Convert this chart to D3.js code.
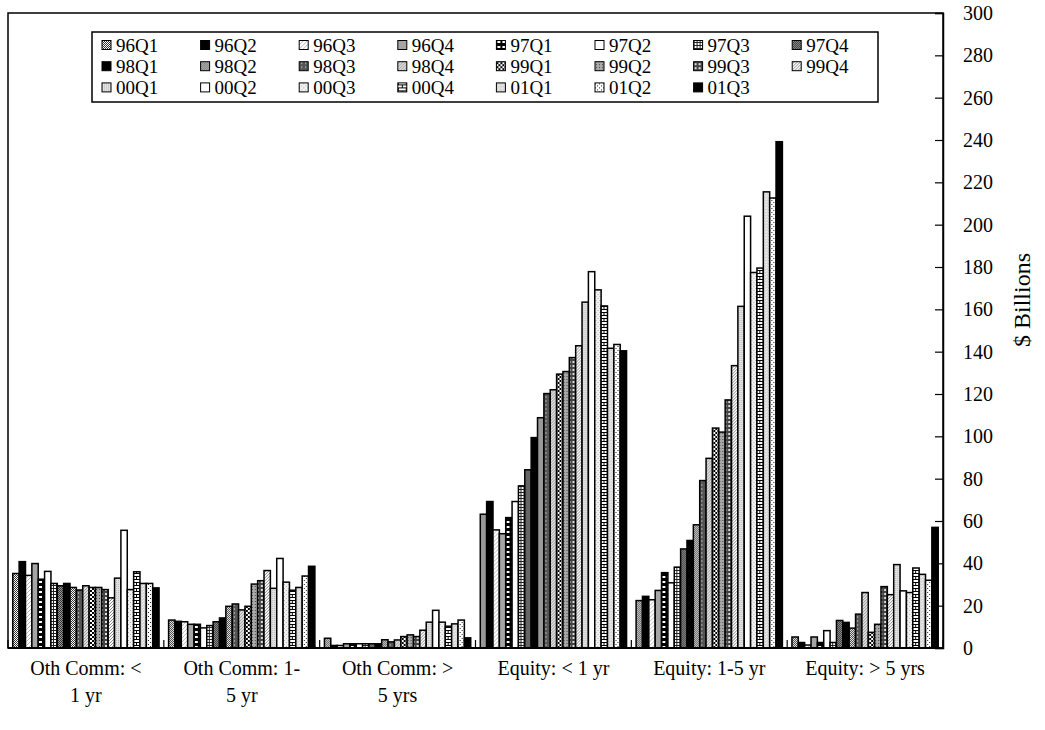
<!DOCTYPE html>
<html><head><meta charset="utf-8">
<script src="https://cdn.jsdelivr.net/npm/d3@7"></script>
<style>
html,body{margin:0;padding:0;background:#fff;}
svg{display:block;}
text{font-family:"Liberation Serif","Times New Roman",serif;fill:#000;}
</style></head>
<body>
<svg id="chart" width="1045" height="730"></svg>
<script>
// ---- data ----
const categories = [
  ["Oth Comm: <", "1 yr"],
  ["Oth Comm: 1-", "5 yr"],
  ["Oth Comm: >", "5 yrs"],
  ["Equity: < 1 yr"],
  ["Equity: 1-5 yr"],
  ["Equity: > 5 yrs"]
];
const series = ["96Q1","96Q2","96Q3","96Q4","97Q1","97Q2","97Q3","97Q4",
                "98Q1","98Q2","98Q3","98Q4","99Q1","99Q2","99Q3","99Q4",
                "00Q1","00Q2","00Q3","00Q4","01Q1","01Q2","01Q3"];
const othCommLt1 = [35.2,40.8,34.3,39.9,32.5,36.2,30.5,29.4,30.5,28.6,27.4,29.4,28.6,28.6,27.6,23.7,33,55.6,27.6,36,30.5,30.5,28.4];
const othComm1to5 = [13.2,12.6,12.4,11.2,11.2,9.5,10.6,12.4,14.2,19.7,20.8,18,19.7,30.2,31.8,36.6,28.2,42.3,31.1,27.3,28.6,34,38.6];
const othCommGt5 = [4.6,1.2,1.2,2,2,2,2,2,2,3.9,2.9,3.8,5.4,6.2,5.4,8.4,12.2,17.8,12.2,10.3,11.4,13.2,4.8];
const equityLt1 = [63.2,69.2,55.8,54,61.6,69.2,76.6,84.2,99.4,108.8,120.2,122,129.4,130.6,137.2,142.8,163.4,177.8,169.2,161.6,141.6,143.4,140.4];
const equity1to5 = [22.4,24.4,22.8,27.2,35.6,30.8,38.2,46.8,50.8,58.2,79.1,89.6,103.9,102,117.2,133.4,161.4,204,177.4,179.5,215.5,212.6,239.2];
const equityGt5 = [5.2,2.6,1.4,5.2,2.6,8.2,2.6,13,12.1,9.4,16,26.2,7.4,11.2,29,25.2,39.4,27,26.2,37.8,34.8,32,57];
const groupValues = [othCommLt1, othComm1to5, othCommGt5, equityLt1, equity1to5, equityGt5];
const yTicks = [0,20,40,60,80,100,120,140,160,180,200,220,240,260,280,300];
const yLabel = "$ Billions";

// ---- fill styles (per series) ----
const fills = ["dots50","black","diag","gray","plaid","white","grid","dark","black","dots50","vert",
               "ltdots","checker","graydots","darkwhite","sparse","ltgray","white","vltgray","brick","ltgray2","whitedots","black"];

const svg = d3.select("#chart");
const defs = svg.append("defs");
function pat(id, w, h, build){
  const p = defs.append("pattern").attr("id", id).attr("patternUnits","userSpaceOnUse")
    .attr("width", w).attr("height", h);
  build(p);
}
const px = (p, pts, c) => pts.forEach(([x,y]) => p.append("rect").attr("x",x).attr("y",y).attr("width",1).attr("height",1).attr("fill",c));
const bg = (p, w, h, c) => p.append("rect").attr("width",w).attr("height",h).attr("fill",c);
pat("dots50",2,2,p=>{bg(p,2,2,"#fff");px(p,[[0,0],[1,1]],"#333");});
pat("diag",4,4,p=>{bg(p,4,4,"#fff");px(p,[[0,3],[1,2],[2,1],[3,0]],"#bbb");});
pat("plaid",5,5,p=>{bg(p,5,5,"#000");p.append("rect").attr("x",1).attr("y",1).attr("width",3).attr("height",2).attr("fill","#fff");});
pat("grid",3,3,p=>{bg(p,3,3,"#fff");p.append("rect").attr("width",3).attr("height",1).attr("fill","#222");p.append("rect").attr("width",1).attr("height",3).attr("fill","#222");});
pat("dark",2,2,p=>{bg(p,2,2,"#9a9a9a");px(p,[[0,0],[1,1]],"#333");});
pat("vert",4,4,p=>{bg(p,4,4,"#555");p.append("rect").attr("x",2).attr("width",1).attr("height",2).attr("fill","#aaa");});
pat("ltdots",3,3,p=>{bg(p,3,3,"#e0e0e0");px(p,[[0,0],[1,2],[2,1]],"#999");});
pat("checker",4,4,p=>{bg(p,4,4,"#fff");p.append("rect").attr("width",2).attr("height",2).attr("fill","#000");p.append("rect").attr("x",2).attr("y",2).attr("width",2).attr("height",2).attr("fill","#000");});
pat("graydots",3,3,p=>{bg(p,3,3,"#a8a8a8");px(p,[[1,1]],"#444");});
pat("darkwhite",4,4,p=>{bg(p,4,4,"#444");p.append("rect").attr("x",1).attr("y",1).attr("width",2).attr("height",2).attr("fill","#ddd");});
pat("sparse",3,3,p=>{bg(p,3,3,"#fff");px(p,[[0,0],[2,1],[1,2]],"#888");});
pat("ltgray",2,2,p=>{bg(p,2,2,"#e2e2e2");px(p,[[0,0]],"#bbb");});
pat("vltgray",4,4,p=>{bg(p,4,4,"#f2f2f2");px(p,[[0,0],[2,2]],"#aaa");});
pat("brick",8,6,p=>{bg(p,8,6,"#fff");
  p.append("rect").attr("y",0).attr("width",8).attr("height",1).attr("fill","#000");
  p.append("rect").attr("y",3).attr("width",8).attr("height",1).attr("fill","#000");
  p.append("rect").attr("x",0).attr("y",0).attr("width",1).attr("height",3).attr("fill","#000");
  p.append("rect").attr("x",4).attr("y",3).attr("width",1).attr("height",3).attr("fill","#000");});
pat("ltgray2",3,3,p=>{bg(p,3,3,"#d6d6d6");px(p,[[0,0],[2,1]],"#f5f5f5");});
pat("whitedots",4,4,p=>{bg(p,4,4,"#fff");px(p,[[0,0],[2,2]],"#222");});
const fillOf = k => k==="black" ? "#000" : k==="white" ? "#fff" : k==="gray" ? "#a5a5a5" : `url(#${k})`;

// ---- layout ----
const plot = {x0: 8, x1: 943, y0: 13, y1: 648};
const x0 = d3.scaleBand().domain(d3.range(categories.length)).range([plot.x0, plot.x1]).padding(0);
const x1 = d3.scaleBand().domain(series).range([0, x0.bandwidth()]).paddingInner(0).paddingOuter(0.75);
const y = d3.scaleLinear().domain([0, 300]).range([plot.y1, plot.y0]);

// bars
const g = svg.append("g");
groupValues.forEach((vals, gi) => {
  g.append("g").attr("transform", `translate(${x0(gi)},0)`)
    .selectAll("rect").data(vals).join("rect")
    .attr("x", (d,i) => x1(series[i]))
    .attr("y", d => y(d))
    .attr("width", x1.bandwidth())
    .attr("height", d => y(0) - y(d))
    .attr("fill", (d,i) => fillOf(fills[i]))
    .attr("stroke", "#000").attr("stroke-width", 1.5);
});

// frame
svg.append("rect").attr("x", plot.x0).attr("y", plot.y0)
  .attr("width", plot.x1 - plot.x0).attr("height", plot.y1 - plot.y0)
  .attr("fill", "none").attr("stroke", "#000").attr("stroke-width", 1.5);

// right y axis (ticks inside)
const yAxis = d3.axisRight(y).tickValues(yTicks).tickSize(-8).tickPadding(28).tickFormat(d3.format("d"));
const ya = svg.append("g").attr("transform", `translate(${plot.x1},0)`).call(yAxis);
ya.select(".domain").attr("stroke-width", 1.5);
ya.selectAll(".tick line").attr("stroke-width", 1.2);
ya.selectAll(".tick text").attr("font-size", 20).attr("font-family", "Liberation Serif").attr("text-anchor","start").attr("x", 20);

// x axis with category boundary ticks (inside, upward)
const boundaries = d3.range(categories.length + 1).map(i => plot.x0 + i * x0.step());
svg.append("g").selectAll("line").data(boundaries).join("line")
  .attr("x1", d => d).attr("x2", d => d).attr("y1", plot.y1).attr("y2", plot.y1 - 8)
  .attr("stroke", "#000").attr("stroke-width", 1.2);
svg.append("line").attr("x1", plot.x0).attr("x2", plot.x1).attr("y1", plot.y1).attr("y2", plot.y1)
  .attr("stroke", "#000").attr("stroke-width", 2);

// category labels
const cl = svg.append("g").selectAll("text").data(categories).join("text")
  .attr("x", (d,i) => x0(i) + x0.bandwidth()/2)
  .attr("y", 675).attr("text-anchor", "middle").attr("font-size", 20);
cl.selectAll("tspan").data(d => d).join("tspan")
  .attr("x", function(){ return this.parentNode.getAttribute("x"); })
  .attr("dy", (d,i) => i === 0 ? 0 : 27).text(d => d);

// y label
svg.append("text").attr("transform", "translate(1030,300) rotate(-90)")
  .attr("text-anchor", "middle").attr("font-size", 24).text(yLabel);

// legend
const leg = svg.append("g");
leg.append("rect").attr("x", 92).attr("y", 32).attr("width", 786).attr("height", 70)
  .attr("fill", "#fff").attr("stroke", "#000").attr("stroke-width", 1.5);
const li = leg.selectAll("g.item").data(series).join("g").attr("class","item")
  .attr("transform", (d,i) => `translate(${102 + (i % 8) * 98.6},${45 + Math.floor(i / 8) * 21.2})`);
li.append("rect").attr("x", 0).attr("y", -4.5).attr("width", 9).attr("height", 9)
  .attr("fill", (d,i) => fillOf(fills[i])).attr("stroke", "#000").attr("stroke-width", 1);
li.append("text").attr("x", 14).attr("y", 0).attr("dy", "0.35em").attr("font-size", 19).text(d => d);
</script>
</body></html>
